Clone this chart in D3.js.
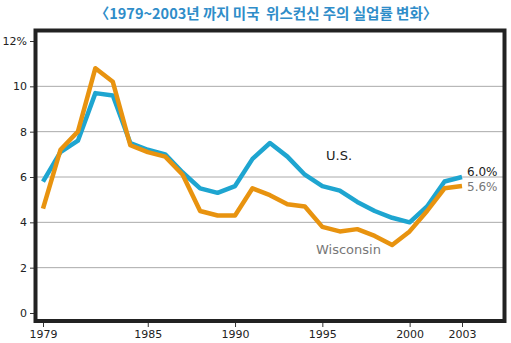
<!DOCTYPE html>
<html><head><meta charset="utf-8">
<script src="https://cdn.jsdelivr.net/npm/d3@7"></script>
<style>body{margin:0;background:#fff}svg{display:block}</style>
</head><body>
<script>
const years = d3.range(1979, 2004);
const usValues = [5.8, 7.1, 7.6, 9.7, 9.6, 7.5, 7.2, 7.0, 6.2, 5.5, 5.3, 5.6, 6.8, 7.5, 6.9, 6.1, 5.6, 5.4, 4.9, 4.5, 4.2, 4.0, 4.7, 5.8, 6.0];
const wiValues = [4.6, 7.2, 8.0, 10.8, 10.2, 7.4, 7.1, 6.9, 6.1, 4.5, 4.3, 4.3, 5.5, 5.2, 4.8, 4.7, 3.8, 3.6, 3.7, 3.4, 3.0, 3.6, 4.5, 5.5, 5.6];
const xTicks = [1979, 1985, 1990, 1995, 2000, 2003];
const yTicks = [0, 2, 4, 6, 8, 10, 12];
const title = "〈1979~2003년 까지 미국  위스컨신 주의 실업률 변화〉";

const W = 511, H = 343;
const svg = d3.select("body").append("svg").attr("width", W).attr("height", H);
const x = d3.scaleLinear().domain([1979, 2003]).range([43, 462]);
const y = d3.scaleLinear().domain([0, 12]).range([313, 41]);

svg.append("text").attr("x", 266).attr("y", 19).attr("text-anchor", "middle")
  .attr("font-family", "'Noto Sans CJK KR', sans-serif").attr("font-weight", "bold")
  .attr("font-size", 14.5).attr("fill", "#2f8dc9").style("white-space", "pre").text(title);

// gridlines
svg.append("g").selectAll("line").data(yTicks.filter(d => d > 0 && d < 12)).join("line")
  .attr("x1", 37).attr("x2", 503).attr("y1", d => y(d)).attr("y2", d => y(d))
  .attr("stroke", "#aaa").attr("stroke-width", 1);

const font = "'DejaVu Sans', Verdana, sans-serif";
const yAxis = svg.append("g").attr("transform", "translate(34,0)")
  .call(d3.axisLeft(y).tickValues(yTicks).tickSize(4).tickPadding(3).tickFormat(d => d === 12 ? "12%" : d));
const xAxis = svg.append("g").attr("transform", "translate(0,322)")
  .call(d3.axisBottom(x).tickValues(xTicks).tickSize(5).tickPadding(3).tickFormat(d3.format("d")));
[yAxis, xAxis].forEach(a => {
  a.select(".domain").remove();
  a.selectAll("line").attr("stroke", "#333");
  a.selectAll("text").attr("font-family", font).attr("font-size", 11).attr("fill", "#222");
});

const line = d3.line().x((d, i) => x(years[i])).y(d => y(d));
svg.append("path").datum(usValues).attr("d", line).attr("fill", "none")
  .attr("stroke", "#1ea5d0").attr("stroke-width", 4.5).attr("stroke-linejoin", "round");
svg.append("path").datum(wiValues).attr("d", line).attr("fill", "none")
  .attr("stroke", "#e8930f").attr("stroke-width", 4.5).attr("stroke-linejoin", "round");

// frame
svg.append("rect").attr("x", 35.5).attr("y", 30.5).attr("width", 469).attr("height", 290.5)
  .attr("fill", "none").attr("stroke", "#222").attr("stroke-width", 4);

svg.append("text").attr("x", 326).attr("y", 160).attr("font-family", font).attr("font-size", 13)
  .attr("fill", "#222").text("U.S.");
svg.append("text").attr("x", 316).attr("y", 254).attr("font-family", font).attr("font-size", 13)
  .attr("fill", "#777").text("Wisconsin");
svg.append("text").attr("x", 467).attr("y", 176).attr("font-family", font).attr("font-size", 12)
  .attr("fill", "#222").text(usValues[usValues.length - 1].toFixed(1) + "%");
svg.append("text").attr("x", 467).attr("y", 190.5).attr("font-family", font).attr("font-size", 12)
  .attr("fill", "#777").text(wiValues[wiValues.length - 1].toFixed(1) + "%");
</script>
</body></html>
